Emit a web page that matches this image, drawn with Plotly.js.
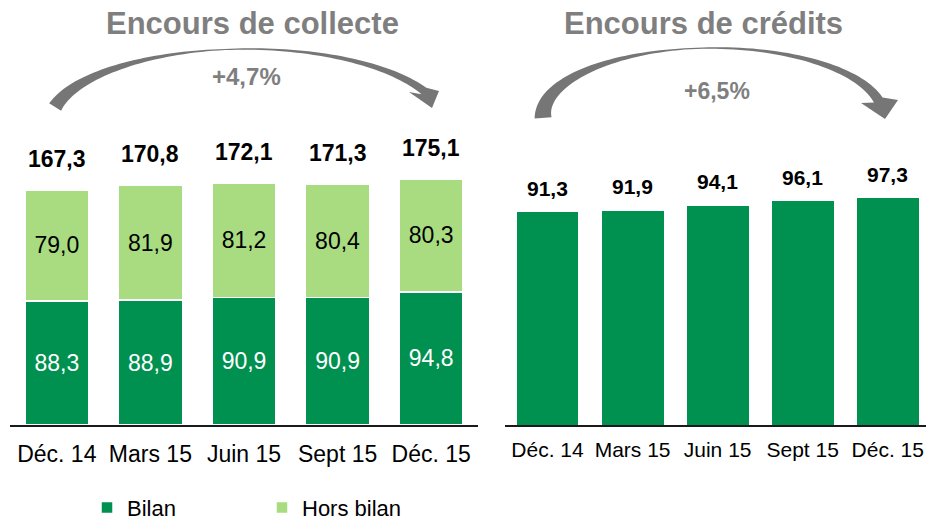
<!DOCTYPE html>
<html>
<head>
<meta charset="utf-8">
<script src="https://cdn.plot.ly/plotly-3.0.1.min.js"></script>
<style>
html,body{margin:0;padding:0;background:#fff;}
#chart{width:926px;height:521px;}
</style>
</head>
<body>
<div id="chart"></div>
<script>
// ---- data ----
const periods = ['Déc. 14', 'Mars 15', 'Juin 15', 'Sept 15', 'Déc. 15'];
const bilan = [88.3, 88.9, 90.9, 90.9, 94.8];
const horsBilan = [79.0, 81.9, 81.2, 80.4, 80.3];
const totalCollecte = [167.3, 170.8, 172.1, 171.3, 175.1];
const credits = [91.3, 91.9, 94.1, 96.1, 97.3];
const titleCollecte = 'Encours de collecte';
const titleCredits = 'Encours de crédits';
const growthCollecte = '+4,7%';
const growthCredits = '+6,5%';

// ---- style ----
const W = 926, H = 521;
const FONT = 'Liberation Sans, Arial, sans-serif';
const DARK = '#00904F';
const LIGHT = '#A9DC80';
const GREY = '#7F7F7F';
const px = x => x / W;
const py = y => 1 - y / H;
const fmt = v => v.toFixed(1).replace('.', ',');

const traces = [
  {
    type: 'bar', name: 'Bilan', x: periods, y: bilan,
    xaxis: 'x', yaxis: 'y', width: 0.684,
    marker: {color: DARK, line: {color: '#ffffff', width: 1.5}},
    texttemplate: '%{y:.1f}', textposition: 'inside', insidetextanchor: 'middle',
    textfont: {family: FONT, size: 23, color: '#ffffff'},
    constraintext: 'none', hoverinfo: 'skip'
  },
  {
    type: 'bar', name: 'Hors bilan', x: periods, y: horsBilan,
    xaxis: 'x', yaxis: 'y', width: 0.684,
    marker: {color: LIGHT, line: {color: '#ffffff', width: 1.5}},
    texttemplate: '%{y:.1f}', textposition: 'inside', insidetextanchor: 'middle',
    textfont: {family: FONT, size: 23, color: '#000000'},
    constraintext: 'none', hoverinfo: 'skip'
  },
  {
    type: 'bar', name: 'Crédits', x: periods, y: credits,
    xaxis: 'x2', yaxis: 'y2', width: 0.74, showlegend: false,
    marker: {color: DARK, line: {color: '#ffffff', width: 1}},
    hoverinfo: 'skip'
  }
];

const annotations = [];
periods.forEach((p, i) => {
  annotations.push({x: p, y: totalCollecte[i], xref: 'x', yref: 'y', text: '<b>' + fmt(totalCollecte[i]) + '</b>',
    showarrow: false, yanchor: 'bottom', yshift: 16, font: {family: FONT, size: 23, color: '#000'}});
  annotations.push({x: p, y: credits[i], xref: 'x2', yref: 'y2', text: '<b>' + fmt(credits[i]) + '</b>',
    showarrow: false, yanchor: 'bottom', yshift: 10, font: {family: FONT, size: 21, color: '#000'}});
});
annotations.push({x: px(252), y: py(23), xref: 'paper', yref: 'paper', text: '<b>' + titleCollecte + '</b>',
  showarrow: false, xanchor: 'center', yanchor: 'middle', font: {family: FONT, size: 31, color: GREY}});
annotations.push({x: px(703), y: py(23), xref: 'paper', yref: 'paper', text: '<b>' + titleCredits + '</b>',
  showarrow: false, xanchor: 'center', yanchor: 'middle', font: {family: FONT, size: 31, color: GREY}});
annotations.push({x: px(246), y: py(76), xref: 'paper', yref: 'paper', text: '<b>' + growthCollecte + '</b>',
  showarrow: false, xanchor: 'center', yanchor: 'middle', font: {family: FONT, size: 24, color: GREY}});
annotations.push({x: px(717), y: py(91), xref: 'paper', yref: 'paper', text: '<b>' + growthCredits + '</b>',
  showarrow: false, xanchor: 'center', yanchor: 'middle', font: {family: FONT, size: 23, color: GREY}});

// curved decorative arrows (pixel geometry -> paper coords)
function arrowPath(cx, cy, a, b, th0, th1, w0, wm, w1, cOut, tip, cIn) {
  const N = 80, outer = [], inner = [];
  for (let i = 0; i <= N; i++) {
    const s = i / N, th = th0 + (th1 - th0) * s;
    const x = cx + a * Math.cos(th), y = cy - b * Math.sin(th);
    let nx = Math.cos(th) / a, ny = -Math.sin(th) / b;
    const nl = Math.hypot(nx, ny); nx /= nl; ny /= nl;
    const w = s < 0.5 ? wm + (w0 - wm) * Math.pow(1 - 2 * s, 1.4) : wm + (w1 - wm) * Math.pow(2 * s - 1, 1.4);
    outer.push([x + nx * w / 2, y + ny * w / 2]);
    inner.push([x - nx * w / 2, y - ny * w / 2]);
  }
  const pts = outer.concat([cOut, tip, cIn]).concat(inner.reverse());
  return pts.map((p, i) => (i ? 'L' : 'M') + px(p[0]).toFixed(5) + ',' + py(p[1]).toFixed(5)).join(' ') + ' Z';
}
const shapes = [
  {type: 'path', xref: 'paper', yref: 'paper', fillcolor: '#767676', line: {width: 0},
    path: arrowPath(247, 124, 197, 75, 2.913, 0.456, 14, 1.2, 8, [439, 91], [432, 108], [409, 92])},
  {type: 'path', xref: 'paper', yref: 'paper', fillcolor: '#767676', line: {width: 0},
    path: arrowPath(713, 116, 170, 68, 3.17, 0.237, 17, 1.2, 10, [898, 100], [885, 119], [861, 103])}
];

const axisX = {
  type: 'category', showline: true, linecolor: '#1a1a1a', linewidth: 2,
  showgrid: false, zeroline: false, ticks: 'outside', tickcolor: 'rgba(0,0,0,0)',
  fixedrange: true
};
const layout = {
  width: W, height: H,
  margin: {l: 0, r: 0, t: 0, b: 0, autoexpand: false},
  paper_bgcolor: '#ffffff', plot_bgcolor: 'rgba(0,0,0,0)',
  separators: ', ',
  barmode: 'stack',
  font: {family: FONT, color: '#000'},
  xaxis: Object.assign({}, axisX, {domain: [px(10), px(478)], range: [-0.5, 4.5], ticklen: 7, tickfont: {family: FONT, size: 23, color: '#000'}}),
  yaxis: {domain: [py(425), 1], range: [0, 302.5], visible: false, fixedrange: true},
  xaxis2: Object.assign({}, axisX, {domain: [px(505), 1], range: [-0.5, 4.45], anchor: 'y2', ticklen: 5, tickfont: {family: FONT, size: 21, color: '#000'}}),
  yaxis2: {domain: [py(425), 1], range: [0, 182.0], visible: false, anchor: 'x2', fixedrange: true},
  showlegend: true,
  legend: {orientation: 'h', x: px(87), xanchor: 'left', y: -0.015, yanchor: 'bottom',
    font: {family: FONT, size: 22, color: '#000'}, entrywidth: 130, entrywidthmode: 'pixels',
    traceorder: 'normal', bgcolor: 'rgba(0,0,0,0)'},
  annotations: annotations,
  shapes: shapes
};
Plotly.newPlot('chart', traces, layout, {displayModeBar: false, staticPlot: true});
</script>
</body>
</html>
